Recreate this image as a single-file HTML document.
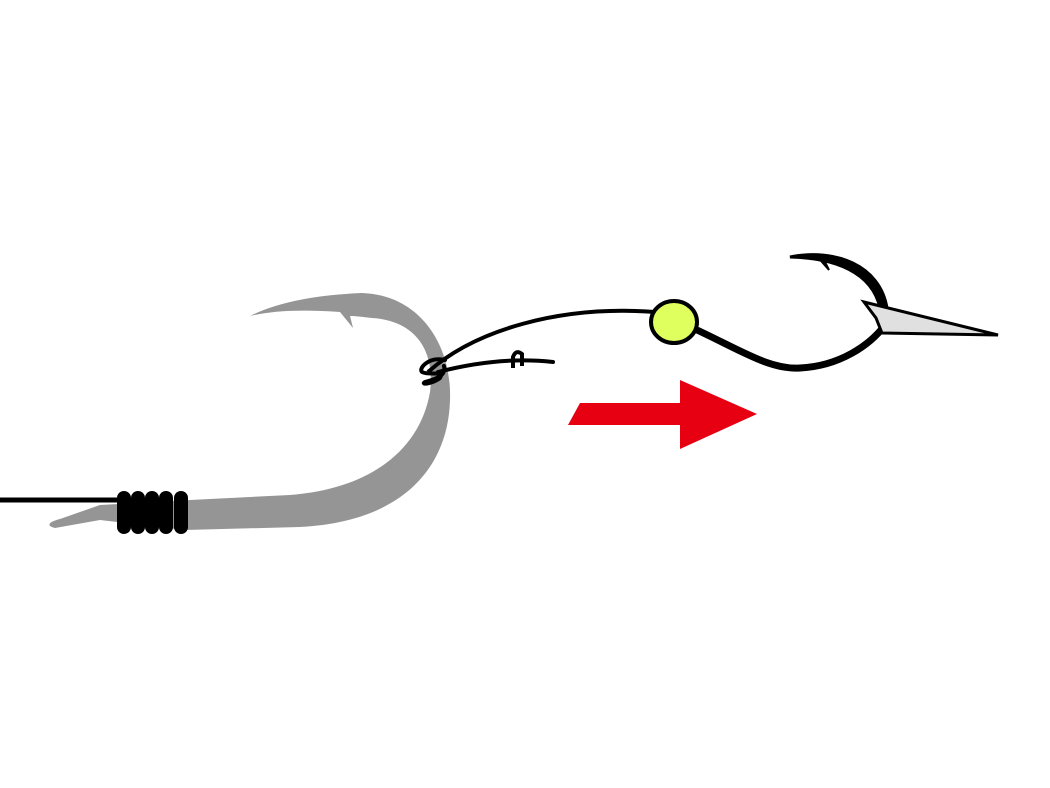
<!DOCTYPE html>
<html><head><style>html,body{margin:0;padding:0;background:#fff;width:1050px;height:788px;overflow:hidden}</style></head>
<body>
<svg width="1050" height="788" viewBox="0 0 1050 788" xmlns="http://www.w3.org/2000/svg">
<rect width="1050" height="788" fill="#fff"/>
<!-- gray hook -->
<path d="M250,316 Q290,296 362,293 C420,295 452,345 450,400 C448,470 400,522 300,527 L185,530 L100,520 L55,528 C46,526 48,522 60,519 L100,505 L190,500 L290,495 C370,489 420,450 430,392 C436,345 410,320 372,318 C362,317 356,316 350,316 L353,328 L340,312 C300,309 270,311 250,316 Z" fill="#959595"/>
<!-- main line -->
<line x1="0" y1="500" x2="125" y2="500" stroke="#000" stroke-width="5"/>
<g fill="#000">
<rect x="117" y="491" width="14" height="43" rx="7"/>
<rect x="131" y="491" width="14" height="43" rx="7"/>
<rect x="145" y="491" width="14" height="43" rx="7"/>
<rect x="159" y="491" width="14" height="43" rx="7"/>
<rect x="174" y="491" width="14" height="43" rx="7"/>
</g>
<!-- leader -->
<path d="M428,372 C475,330 560,305 655,312" fill="none" stroke="#000" stroke-width="4"/>
<path d="M438,372 Q500,356 553,362" fill="none" stroke="#000" stroke-width="4" stroke-linecap="round"/>
<path d="M513,368 L513,357 Q516,349 522,354 L522,366" fill="none" stroke="#000" stroke-width="4"/>
<path d="M445,360 C430,356 418,368 422,372 C430,376 445,370 440,378 C432,384 420,385 425,382 C440,378 446,374 444,366" fill="none" stroke="#000" stroke-width="4" stroke-linecap="round"/>
<!-- small hook -->
<path d="M697,330 C740,350 770,370 800,368 C840,366 870,345 885,325" fill="none" stroke="#000" stroke-width="7"/>
<path d="M790,257 C835,248 880,265 887,308 L880,308 C872,272 835,258 790,257 Z" fill="#000" stroke="#000" stroke-width="3"/>
<path d="M822,262 L829,270 L825,262 Z" fill="#000" stroke="#000" stroke-width="2"/>
<polygon points="864,302 998,335 882,333 876,318" fill="#e0e0e0" stroke="#000" stroke-width="3" stroke-linejoin="miter"/>
<!-- bead -->
<ellipse cx="674" cy="322" rx="23" ry="21" fill="#dfff5f" stroke="#000" stroke-width="4"/>
<!-- red arrow -->
<polygon points="568,425 580,403 680,403 680,380 757,414 680,449 680,425" fill="#e60012"/>
</svg>
</body></html>
